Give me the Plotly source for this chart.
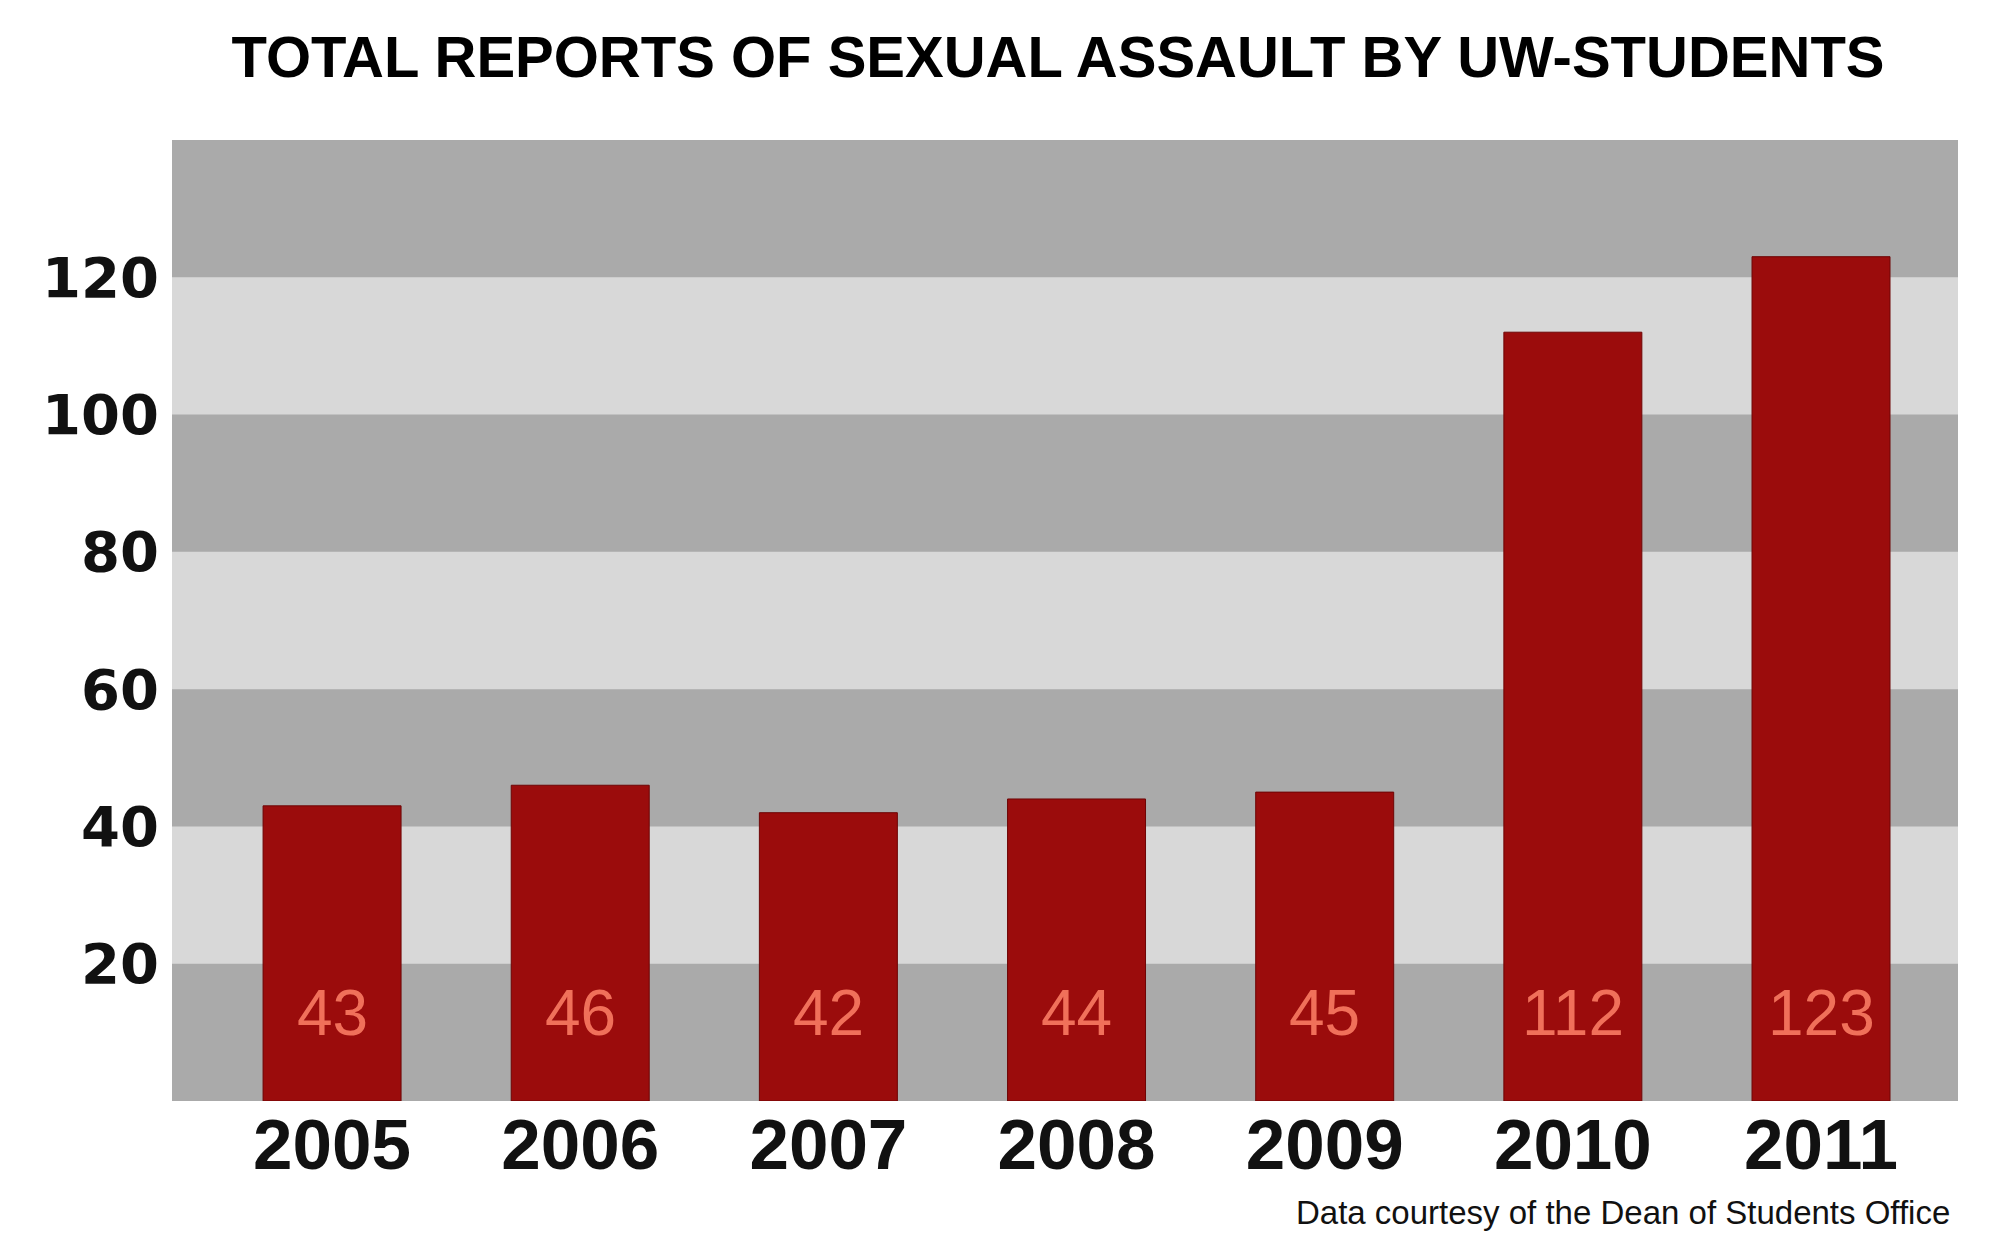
import plotly.graph_objects as go

years = ["2005", "2006", "2007", "2008", "2009", "2010", "2011"]
reports = [43, 46, 42, 44, 45, 112, 123]
y_ticks = [20, 40, 60, 80, 100, 120]
band_edges = [0, 20, 40, 60, 80, 100, 120, 140]

title_text = "TOTAL REPORTS OF SEXUAL ASSAULT BY UW-STUDENTS"
source_text = "Data courtesy of the Dean of Students Office"

BAR = "#9b0c0c"
DARK = "#aaaaaa"
LIGHT = "#d8d8d8"
VAL = "#f0705a"

fig = go.Figure()
fig.add_trace(go.Bar(
    x=years, y=reports, width=0.556,
    marker=dict(color=BAR, line=dict(color="#6e0505", width=1)),
    hoverinfo="x+y",
))

shapes = []
for i in range(len(band_edges) - 1):
    if i % 2 == 0:
        shapes.append(dict(type="rect", xref="paper", yref="y", x0=0, x1=1,
                           y0=band_edges[i], y1=band_edges[i + 1],
                           fillcolor=DARK, line=dict(width=0), layer="below"))

annotations = []
for i, v in enumerate(reports):
    annotations.append(dict(x=i, y=12.8, xref="x", yref="y", text=str(v),
                            showarrow=False, yanchor="middle",
                            font=dict(family="Liberation Sans, Arial", size=64, color=VAL)))
annotations.append(dict(x=(1952 - 172) / 1786, y=(1101 - 1212) / 961, xref="paper", yref="paper",
                        text=source_text, showarrow=False, xanchor="right", yanchor="middle",
                        font=dict(family="Liberation Sans, Arial", size=33, color="#111111")))

fig.update_layout(
    width=2000, height=1240,
    margin=dict(l=164, r=50, t=132, b=147, autoexpand=False),
    paper_bgcolor="white", plot_bgcolor=LIGHT,
    showlegend=False,
    shapes=shapes,
    annotations=annotations,
    title=dict(text=title_text, x=(1058 - 8) / 2000, xanchor="center", xref="container",
               y=1 - (57 - 8) / 1240, yanchor="middle", yref="container",
               font=dict(family="Liberation Sans, Arial", size=58,
                         color="#000000", weight="bold")),
    xaxis=dict(type="category", range=[-0.645, 6.552], showgrid=False, zeroline=False,
               showline=False, ticks="",
               tickfont=dict(family="Liberation Sans, Arial", size=71,
                             color="#111111", weight="bold"),
               ticklabelstandoff=-4),
    yaxis=dict(range=[0, 140], tickvals=y_ticks, showgrid=False, zeroline=False,
               showline=False, ticks="",
               tickfont=dict(family="DejaVu Sans", size=56, color="#111111", weight="bold"),
               ticklabelstandoff=12),
)

fig.write_html("out.html")
